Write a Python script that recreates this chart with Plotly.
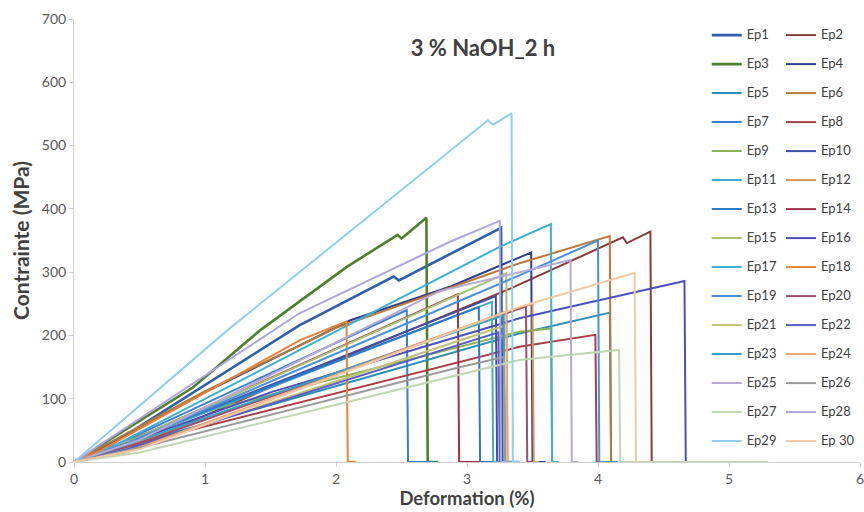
import plotly.graph_objects as go

# ---------------- data (strain %, stress MPa) ----------------
names = ["Ep1", "Ep2", "Ep3", "Ep4", "Ep5", "Ep6", "Ep7", "Ep8", "Ep9", "Ep10",
         "Ep11", "Ep12", "Ep13", "Ep14", "Ep15", "Ep16", "Ep17", "Ep18", "Ep19", "Ep20",
         "Ep21", "Ep22", "Ep23", "Ep24", "Ep25", "Ep26", "Ep27", "Ep28", "Ep29", "Ep 30"]

ep1_strain = [0, 0.3, 1.72, 2.44, 2.48, 3.26, 3.27, 3.40]
ep1_stress = [0, 30, 216, 293, 287, 370, 0, 0]
ep2_strain = [0, 0.4, 1.5, 3.33, 4.19, 4.22, 4.40, 4.41, 4.50]
ep2_stress = [0, 20, 118, 274, 355, 346, 364, 0, 0]
ep3_strain = [0, 0.91, 1.42, 2.08, 2.47, 2.50, 2.69, 2.70, 2.78]
ep3_stress = [0, 118, 208, 308, 359, 353, 386, 0, 0]
ep4_strain = [0, 1.0, 2.11, 2.87, 3.49, 3.50, 3.60]
ep4_stress = [0, 110, 224, 277, 331, 0, 0]
ep5_strain = [0, 0.4, 3.40, 4.09, 4.10, 4.15]
ep5_stress = [0, 25, 203, 236, 0, 0]
ep6_strain = [0, 1.0, 2.0, 3.40, 4.09, 4.10, 4.15]
ep6_stress = [0, 112, 212, 314, 357, 0, 0]
ep7_strain = [0, 0.3, 2.54, 2.55, 2.75]
ep7_stress = [0, 25, 240, 0, 0]
ep8_strain = [0, 0.5, 3.40, 3.98, 3.99, 4.10]
ep8_stress = [0, 30, 182, 201, 0, 0]
ep9_strain = [0, 1.0, 3.40, 3.64, 3.65, 3.70]
ep9_stress = [0, 80, 206, 211, 0, 0]
ep10_strain = [0, 0.5, 3.22, 3.23, 3.30]
ep10_stress = [0, 40, 262, 0, 0]
ep11_strain = [0, 0.4, 3.19, 3.20, 3.30]
ep11_stress = [0, 30, 253, 0, 0]
ep12_strain = [0, 0.4, 3.50, 3.51, 3.55]
ep12_stress = [0, 25, 250, 0, 0]
ep13_strain = [0, 0.3, 3.09, 3.10, 3.20]
ep13_stress = [0, 25, 245, 0, 0]
ep14_strain = [0, 0.5, 2.93, 2.94, 3.10]
ep14_stress = [0, 40, 265, 0, 0]
ep15_strain = [0, 0.5, 3.30, 3.31, 3.35]
ep15_stress = [0, 40, 298, 0, 0]
ep16_strain = [0, 1.5, 3.40, 4.66, 4.67, 4.70]
ep16_stress = [0, 110, 227, 286, 0, 0]
ep17_strain = [0, 0.3, 3.25, 3.64, 3.65, 3.70]
ep17_stress = [0, 25, 340, 376, 0, 0]
ep18_strain = [0, 0.2, 1.73, 2.08, 2.09, 2.15]
ep18_stress = [0, 18, 193, 222, 0, 0]
ep19_strain = [0, 0.2, 3.40, 4.00, 4.01, 4.15]
ep19_stress = [0, 12, 295, 350, 0, 0]
ep20_strain = [0, 0.5, 3.45, 3.46, 3.50]
ep20_stress = [0, 30, 246, 0, 0]
ep21_strain = [0, 0.5, 3.28, 3.29, 3.35]
ep21_stress = [0, 25, 215, 0, 0]
ep22_strain = [0, 0.4, 3.24, 3.25, 3.30]
ep22_stress = [0, 20, 205, 0, 0]
ep23_strain = [0, 0.3, 3.28, 3.29, 3.35]
ep23_stress = [0, 20, 232, 0, 0]
ep24_strain = [0, 0.4, 3.30, 3.31, 3.40]
ep24_stress = [0, 15, 238, 0, 0]
ep25_strain = [0, 0.5, 2.79, 3.79, 3.80, 3.85]
ep25_stress = [0, 35, 270, 319, 0, 0]
ep26_strain = [0, 0.53, 2.95, 3.28, 3.29, 3.35]
ep26_stress = [0, 24, 150, 166, 0, 0]
ep27_strain = [0, 0.5, 3.40, 4.16, 4.17, 5.30]
ep27_stress = [0, 15, 161, 177, 0, 0]
ep28_strain = [0, 1.72, 2.87, 3.25, 3.26, 3.30]
ep28_stress = [0, 235, 348, 381, 0, 0]
ep29_strain = [0, 1.17, 3.16, 3.20, 3.34, 3.35, 3.40]
ep29_stress = [0, 208, 540, 533, 551, 0, 0]
ep30_strain = [0, 0.5, 3.40, 4.28, 4.29, 4.35]
ep30_stress = [0, 20, 245, 299, 0, 0]

colors = ["#2E5FA8", "#8B3A3A", "#4F7F2A", "#2F3F8F", "#2E8DB5", "#B9793A",
          "#3B7DD0", "#A83E4A", "#8DB255", "#3B4FA8", "#45A9CF", "#D8955A",
          "#2F78C4", "#9E3048", "#A8C074", "#4B4FB8", "#3FAFD6", "#E8823A",
          "#4A90D9", "#9A4F6A", "#BFC27A", "#5A5CC0", "#3A9EC4", "#EFA374",
          "#B8A8D4", "#9A9A9A", "#C2D6B4", "#AFA4E0", "#8FD0F0", "#F1C9A5"]

strains = [ep1_strain, ep2_strain, ep3_strain, ep4_strain, ep5_strain, ep6_strain,
           ep7_strain, ep8_strain, ep9_strain, ep10_strain, ep11_strain, ep12_strain,
           ep13_strain, ep14_strain, ep15_strain, ep16_strain, ep17_strain, ep18_strain,
           ep19_strain, ep20_strain, ep21_strain, ep22_strain, ep23_strain, ep24_strain,
           ep25_strain, ep26_strain, ep27_strain, ep28_strain, ep29_strain, ep30_strain]
stresses = [ep1_stress, ep2_stress, ep3_stress, ep4_stress, ep5_stress, ep6_stress,
            ep7_stress, ep8_stress, ep9_stress, ep10_stress, ep11_stress, ep12_stress,
            ep13_stress, ep14_stress, ep15_stress, ep16_stress, ep17_stress, ep18_stress,
            ep19_stress, ep20_stress, ep21_stress, ep22_stress, ep23_stress, ep24_stress,
            ep25_stress, ep26_stress, ep27_stress, ep28_stress, ep29_stress, ep30_stress]

x_ticks = [0, 1, 2, 3, 4, 5, 6]
y_ticks = [0, 100, 200, 300, 400, 500, 600, 700]

FONT = "Lato"
fig = go.Figure()
for i, (name, xs, ys, c) in enumerate(zip(names, strains, stresses, colors)):
    w = 2.6 if name in ("Ep1", "Ep3") else 2.0
    label = '<span style="font-size:13px">' + name + '</span><br>&nbsp;'
    fig.add_trace(go.Scatter(x=xs, y=ys, mode="lines", name=label,
                             legend="legend" if i % 2 == 0 else "legend2",
                             line=dict(color=c, width=w)))

leg_common = dict(orientation="v", y=0.993, yanchor="top",
                  valign="top", bgcolor="rgba(0,0,0,0)", borderwidth=0,
                  font=dict(family=FONT, size=10, color="#404040"),
                  traceorder="normal", itemwidth=30, maxheight=490)

fig.update_layout(
    width=864, height=512,
    margin=dict(l=74, r=4, t=19, b=50),
    paper_bgcolor="white", plot_bgcolor="white",
    font=dict(family=FONT, color="#595959", size=13),
    title=dict(text="<b>3 % NaOH_2 h</b>", x=0.559, xanchor="center", y=0.905,
               yanchor="middle", font=dict(family=FONT, size=22, color="#404040")),
    showlegend=True,
    legend=dict(x=0.805, xanchor="left", **leg_common),
    legend2=dict(x=1.0, xanchor="right", **leg_common),
)
fig.update_xaxes(range=[0, 6], tickvals=x_ticks, showgrid=False, zeroline=False,
                 showline=True, linecolor="#D0D0D0", linewidth=1, automargin=False,
                 ticklabeloverflow="allow",
                 ticks="outside", ticklen=4, tickcolor="#D0D0D0",
                 tickfont=dict(size=14, color="#595959"),
                 title=dict(text="<b>Deformation (%)</b>", standoff=2,
                            font=dict(family=FONT, size=18.5, color="#404040")))
fig.update_yaxes(range=[0, 700], tickvals=y_ticks, showgrid=False, zeroline=False,
                 showline=True, linecolor="#D0D0D0", linewidth=1, automargin=False,
                 ticklabeloverflow="allow",
                 ticks="outside", ticklen=4, tickcolor="#D0D0D0",
                 tickfont=dict(size=14, color="#595959"),
                 title=dict(text="<b>Contrainte (MPa)</b>", standoff=6,
                            font=dict(family=FONT, size=21, color="#404040")))

fig.write_html("out.html")
